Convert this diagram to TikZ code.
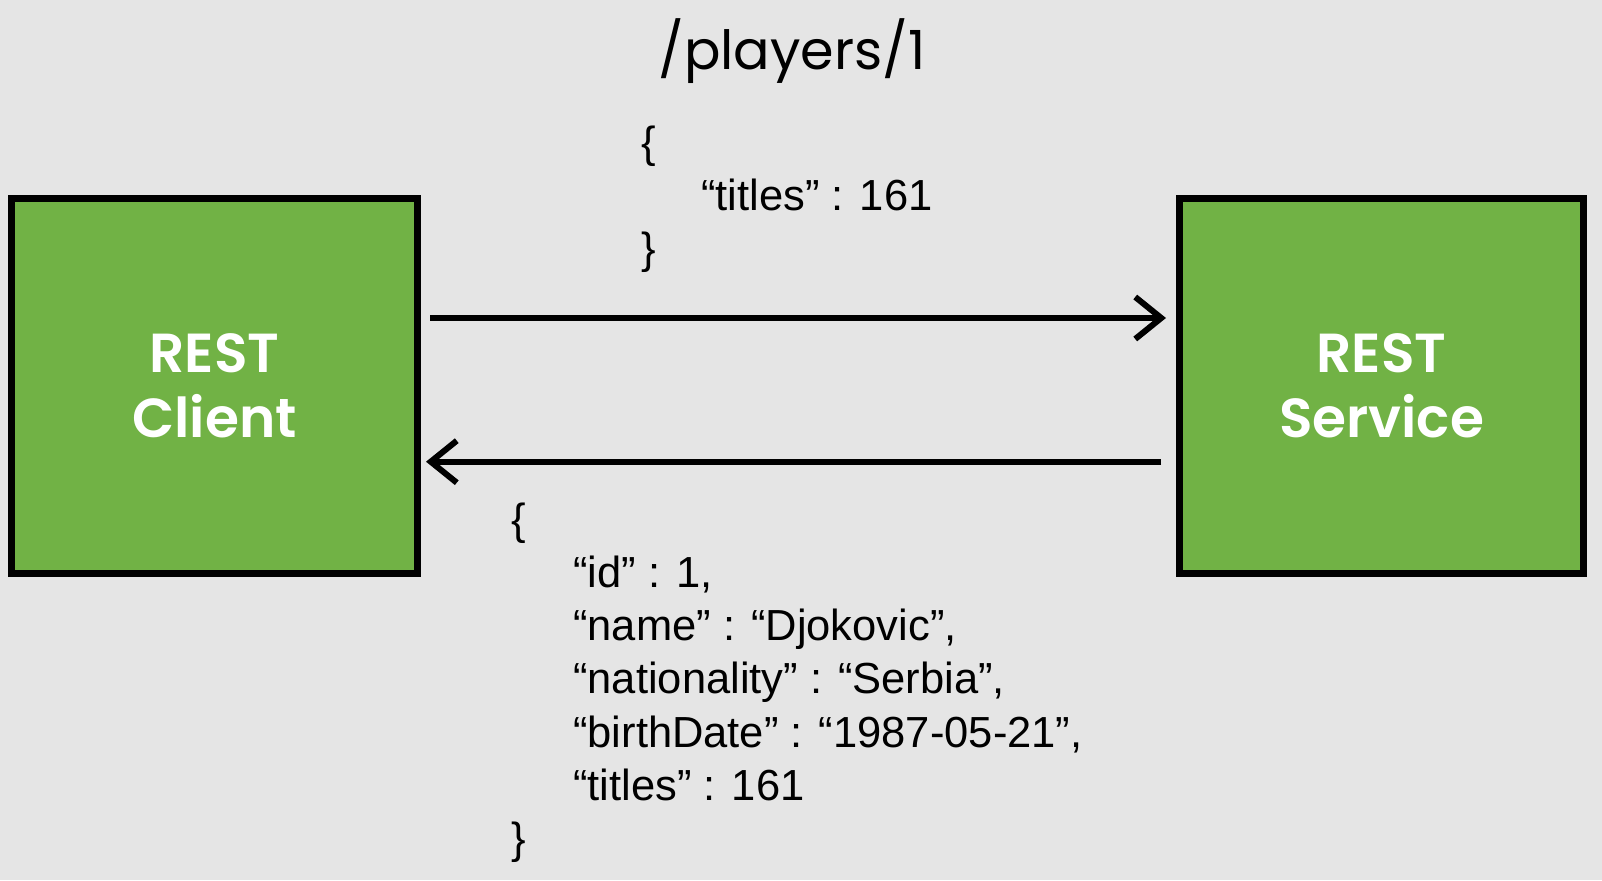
\documentclass[tikz,border=0pt]{standalone}
\usepackage{fontspec}
\usetikzlibrary{arrows.meta}
\newfontfamily\jsonfont{Liberation Sans}
\newfontfamily\headfont{Poppins}
\newfontfamily\boxfont{Poppins SemiBold}
\definecolor{slidegray}{HTML}{E5E5E5}
\definecolor{restgreen}{HTML}{71B245}
\tikzset{
  block/.style = {shape=rectangle, draw=black, line width=7pt,
                  fill=restgreen, inner sep=0pt, align=center,
                  minimum width=406pt, minimum height=375pt, text=white,
                  font=\boxfont\fontsize{55}{65}\selectfont},
  json/.style  = {anchor=base west, inner sep=0pt,
                  font=\jsonfont\fontsize{43.5}{53.3}\selectfont},
  msg/.style   = {draw, line width=6pt,
                  -{Straight Barb[length=26pt, width=42pt]}}
}
\begin{document}
\begin{tikzpicture}[x=1pt, y=-1pt]
  \fill[slidegray] (0,0) rectangle (1602,880);
  \node [anchor=base, inner sep=0pt,
         font=\headfont\fontsize{54}{70}\selectfont] (uri) at (792,70) {/players/1};
  \node [block] (client) at (214.5,386) {REST\\Client};
  \node [block, minimum width=404pt] (service) at (1381.5,386) {REST\\Service};
  % request body
  \foreach \x/\y/\txt [count=\i] in {641/157/\{, 701/210/{“titles” : 161}, 641/263.5/\}}
    \node [json] (req\i) at (\x,\y) {\txt};
  % response body
  \foreach \x/\y/\txt [count=\i] in {511/534/\{, 573/587/{“id” : 1,},
      573/640/{“name” : “Djokovic”,}, 573/693/{“nationality” : “Serbia”,},
      573/747/{“birthDate” : “1987-05-21”,}, 573/800/{“titles” : 161}, 511/853/\}}
    \node [json] (resp\i) at (\x,\y) {\txt};
  \draw [msg, shorten <=9pt, shorten >=10pt]
    ([yshift=68pt]client.east) -- ([yshift=68pt]service.west);
  \draw [msg, shorten <=15pt, shorten >=5pt]
    ([yshift=-75.7pt]service.west) -- ([yshift=-75.7pt]client.east);
\end{tikzpicture}
\end{document}
